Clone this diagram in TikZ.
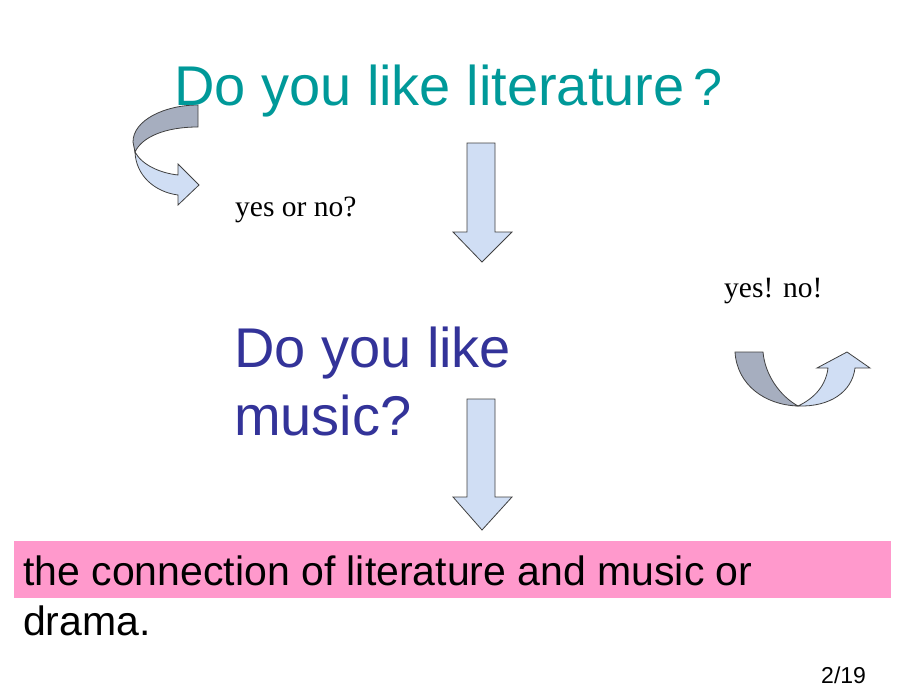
\documentclass[tikz,border=0pt]{standalone}
\usepackage{fontspec}
\setmainfont{Liberation Sans}
\newfontfamily\timesish{Liberation Serif}
\usepackage{tikz}
\usetikzlibrary{positioning}
\definecolor{titleteal}{HTML}{009999}
\definecolor{musicblue}{HTML}{333399}
\definecolor{barpink}{HTML}{FF99CC}
\definecolor{arrowfront}{HTML}{D0DEF4}
\definecolor{arrowback}{HTML}{A6AEBF}
\tikzset{>=latex}
\tikzset{
  frontface/.style={draw=black!75, fill=arrowfront, line width=0.8pt, line join=miter},
  backface/.style={draw=black!75, fill=arrowback, line width=0.8pt},
  bigq/.style={inner sep=0pt, anchor=base west, font=\fontsize{56}{66}\selectfont},
  remark/.style={inner sep=0pt, anchor=base west, font=\timesish\fontsize{29.5}{34}\selectfont},
  topic/.style={inner sep=0pt, anchor=base west, font=\fontsize{41}{50}\selectfont},
}

\begin{document}
\begin{tikzpicture}[x=1pt,y=-1pt]
    \useasboundingbox (0,0) rectangle (920,690);

    % curled arrow on the left (back face first)
    \draw[backface] (198,105) .. controls (165,105) and (133,120) .. (133,142)
      -- (135,152) .. controls (142,137) and (165,127) .. (198,127) -- cycle;
    \draw[frontface] (135,152) .. controls (136,176) and (155,192) .. (178,195)
      -- (178,205) -- (199,185) -- (178,164) -- (178,175)
      .. controls (160,173) and (142,165) .. (135,152) -- cycle;

    % curled arrow on the right
    \draw[backface] (735,352) -- (763,352) .. controls (765,375) and (780,396) .. (798,406)
      .. controls (765,405) and (737,385) .. (735,352) -- cycle;
    \draw[frontface] (798,406) .. controls (815,398) and (826,385) .. (828,368)
      -- (817,368) -- (847,352) -- (870,368) -- (855,368)
      .. controls (852,392) and (830,407) .. (798,406) -- cycle;

    % the two straight block arrows
    \foreach \top/\base/\tip in {143/232/262, 399/497/530}{
      \draw[frontface] (467,\top) -- (495,\top) -- (495,\base) -- (512,\base)
        -- (482,\tip) -- (453,\base) -- (467,\base) -- cycle;
    }

    % questions
    \node[bigq, text=titleteal] (lit) at (174,106) {Do you like literature\hspace{9pt}{\fontsize{52}{60}\selectfont?}};
    \node[bigq, text=musicblue] (music) at (234,367) {Do you like};
    \node[bigq, text=musicblue] (musicb) at (234,435) {music?};

    % small remarks
    \node[remark] (yesorno) at (235,216) {yes or no?};
    \node[remark] (yesno) at (724,297) {yes! no!};

    % pink bar with the topic
    \fill[barpink] (14,541) rectangle (891,598);
    \node[topic] (conn) at (23,585) {the connection of literature and music or};
    \node[topic] (connb) at (23,635) {drama.};

    % page number
    \node[inner sep=0pt, anchor=base west, font=\fontsize{23}{26}\selectfont] (page) at (821,683) {2/19};
\end{tikzpicture}
\end{document}
